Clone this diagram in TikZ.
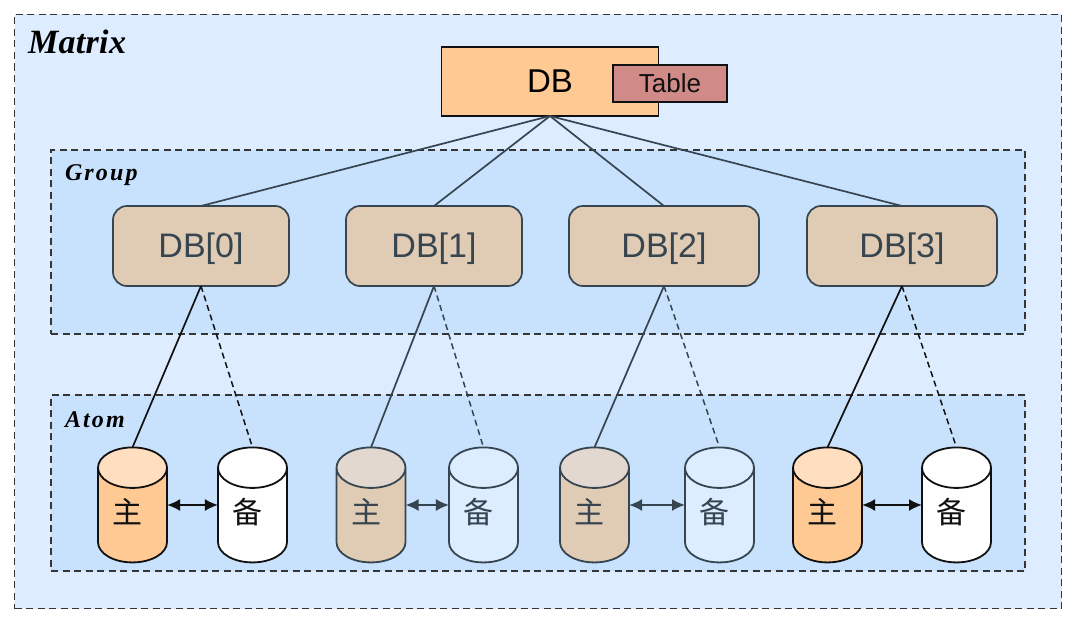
\documentclass[tikz,border=0pt]{standalone}
\usepackage{fontspec}
\setmainfont{Liberation Sans}
\newfontfamily\titlefont{Liberation Serif}[LetterSpace=1]
\newfontfamily\spacedfont{Liberation Serif}[LetterSpace=9]
\newfontfamily\cjkfont{Noto Sans CJK SC}
\usetikzlibrary{shapes.geometric,arrows.meta}
\definecolor{outerbg}{HTML}{DDEDFF}
\definecolor{innerbg}{HTML}{C8E2FD}
\definecolor{orangefill}{HTML}{FFC994}
\definecolor{orangetop}{HTML}{FFDFC0}
\definecolor{tanfill}{HTML}{E0CBB5}
\definecolor{tantop}{HTML}{E2D8CF}
\definecolor{palefill}{HTML}{DCEDFF}
\definecolor{tablefill}{HTML}{D08A88}
\definecolor{slate}{HTML}{36454F}
\definecolor{ink}{HTML}{111111}
\newcommand\cylmark[1]{\raisebox{-8pt}[0pt][0pt]{\makebox[30pt]{#1\hspace*{10pt}}}}
\tikzset{
  x=1pt,y=-1pt,
  every node/.style={outer sep=0pt},
  regionbox/.style={draw=ink!85,fill=#1,line width=1.8pt,dash pattern=on 7pt off 4.5pt},
  dbbox/.style={draw=slate,fill=tanfill,line width=1.7pt,rounded corners=14pt,text=slate,inner sep=0pt,minimum height=80pt,text height=24pt,text depth=0pt,font=\fontsize{34}{36}\selectfont},
  cyl/.style={shape=cylinder,shape border rotate=90,aspect=1.35,draw=#1,line width=1.8pt,minimum width=69pt,minimum height=115pt,inner sep=0pt,cylinder uses custom fill,text=#1,font=\cjkfont\fontsize{30}{32}\selectfont},
  cylorange/.style={cyl=ink,cylinder body fill=orangefill,cylinder end fill=orangetop},
  cylwhite/.style={cyl=ink,cylinder body fill=white,cylinder end fill=white},
  cyltan/.style={cyl=slate,cylinder body fill=tanfill,cylinder end fill=tantop},
  cylpale/.style={cyl=slate,cylinder body fill=palefill,cylinder end fill=palefill},
  solidlink/.style={draw=#1,line width=1.7pt},
  dashlink/.style={draw=#1,line width=1.5pt,dash pattern=on 6pt off 4pt,shorten >=3pt},
  pairlink/.style={draw=#1,line width=2pt,{Latex[length=13pt,width=12pt]}-{Latex[length=13pt,width=12pt]}},
}
\begin{document}
\begin{tikzpicture}
\useasboundingbox (0,0) rectangle (1080,623);
\fill[white] (0,0) rectangle (1080,623);
% regions
\node[regionbox=outerbg,anchor=north west,minimum width=1047pt,minimum height=594pt,inner sep=0pt] (matrix) at (14.5,14.5) {};
\node[regionbox=innerbg,anchor=north west,minimum width=974pt,minimum height=184pt,inner sep=0pt] (group) at (51,150) {};
\node[regionbox=innerbg,anchor=north west,minimum width=974pt,minimum height=176pt,inner sep=0pt] (atom) at (51,395) {};
\node[anchor=base west,inner sep=0pt,font=\titlefont\bfseries\itshape\fontsize{34}{36}\selectfont] (matrixlabel) at (28,54) {Matrix};
\node[anchor=base west,inner sep=0pt,font=\spacedfont\bfseries\itshape\fontsize{24}{25}\selectfont] (grouplabel) at (65,181) {Group};
\node[anchor=base west,inner sep=0pt,font=\spacedfont\bfseries\itshape\fontsize{24}{25}\selectfont] (atomlabel) at (65,427) {Atom};
% top DB
\node[draw=ink,fill=orangefill,line width=1.7pt,minimum width=217pt,minimum height=69pt,inner sep=0pt,anchor=north west,font=\fontsize{33}{36}\selectfont,text=black] (db) at (441.5,47) {DB};
\node[draw=ink,fill=tablefill,line width=1.7pt,minimum width=114pt,minimum height=37pt,inner sep=0pt,anchor=north west,font=\fontsize{26}{28}\selectfont,text=ink] (table) at (613,65) {Table};
% DB shards
\node[dbbox,minimum width=176pt,anchor=north west] (d0) at (113,206) {DB[0]};
\node[dbbox,minimum width=176pt,anchor=north west] (d1) at (346,206) {DB[1]};
\node[dbbox,minimum width=190pt,anchor=north west] (d2) at (569,206) {DB[2]};
\node[dbbox,minimum width=190pt,anchor=north west] (d3) at (807,206) {DB[3]};
% cylinders
\node[cylorange] (m0) at (132.5,515.5) {\cylmark{主}};
\node[cylwhite] (s0) at (252.5,515.5) {\cylmark{备}};
\node[cyltan] (m1) at (371,515.5) {\cylmark{主}};
\node[cylpale] (s1) at (483.5,515.5) {\cylmark{备}};
\node[cyltan] (m2) at (594.5,515.5) {\cylmark{主}};
\node[cylpale] (s2) at (719.5,515.5) {\cylmark{备}};
\node[cylorange] (m3) at (827.5,515.5) {\cylmark{主}};
\node[cylwhite] (s3) at (956.5,515.5) {\cylmark{备}};
% connectors
\draw[solidlink=slate] (db.south) -- (d0.north);
\draw[solidlink=slate] (db.south) -- (d1.north);
\draw[solidlink=slate] (db.south) -- (d2.north);
\draw[solidlink=slate] (db.south) -- (d3.north);
\draw[solidlink=ink] (d0.south) -- (m0.north);
\draw[dashlink=ink] (d0.south) -- (s0.north);
\draw[solidlink=slate] (d1.south) -- (m1.north);
\draw[dashlink=slate] (d1.south) -- (s1.north);
\draw[solidlink=slate] (d2.south) -- (m2.north);
\draw[dashlink=slate] (d2.south) -- (s2.north);
\draw[solidlink=ink] (d3.south) -- (m3.north);
\draw[dashlink=ink] (d3.south) -- (s3.north);
\draw[pairlink=ink] ([yshift=10.5pt]m0.east) -- ([yshift=10.5pt]s0.west);
\draw[pairlink=slate] ([yshift=10.5pt]m1.east) -- ([yshift=10.5pt]s1.west);
\draw[pairlink=slate] ([yshift=10.5pt]m2.east) -- ([yshift=10.5pt]s2.west);
\draw[pairlink=ink] ([yshift=10.5pt]m3.east) -- ([yshift=10.5pt]s3.west);
\end{tikzpicture}
\end{document}
